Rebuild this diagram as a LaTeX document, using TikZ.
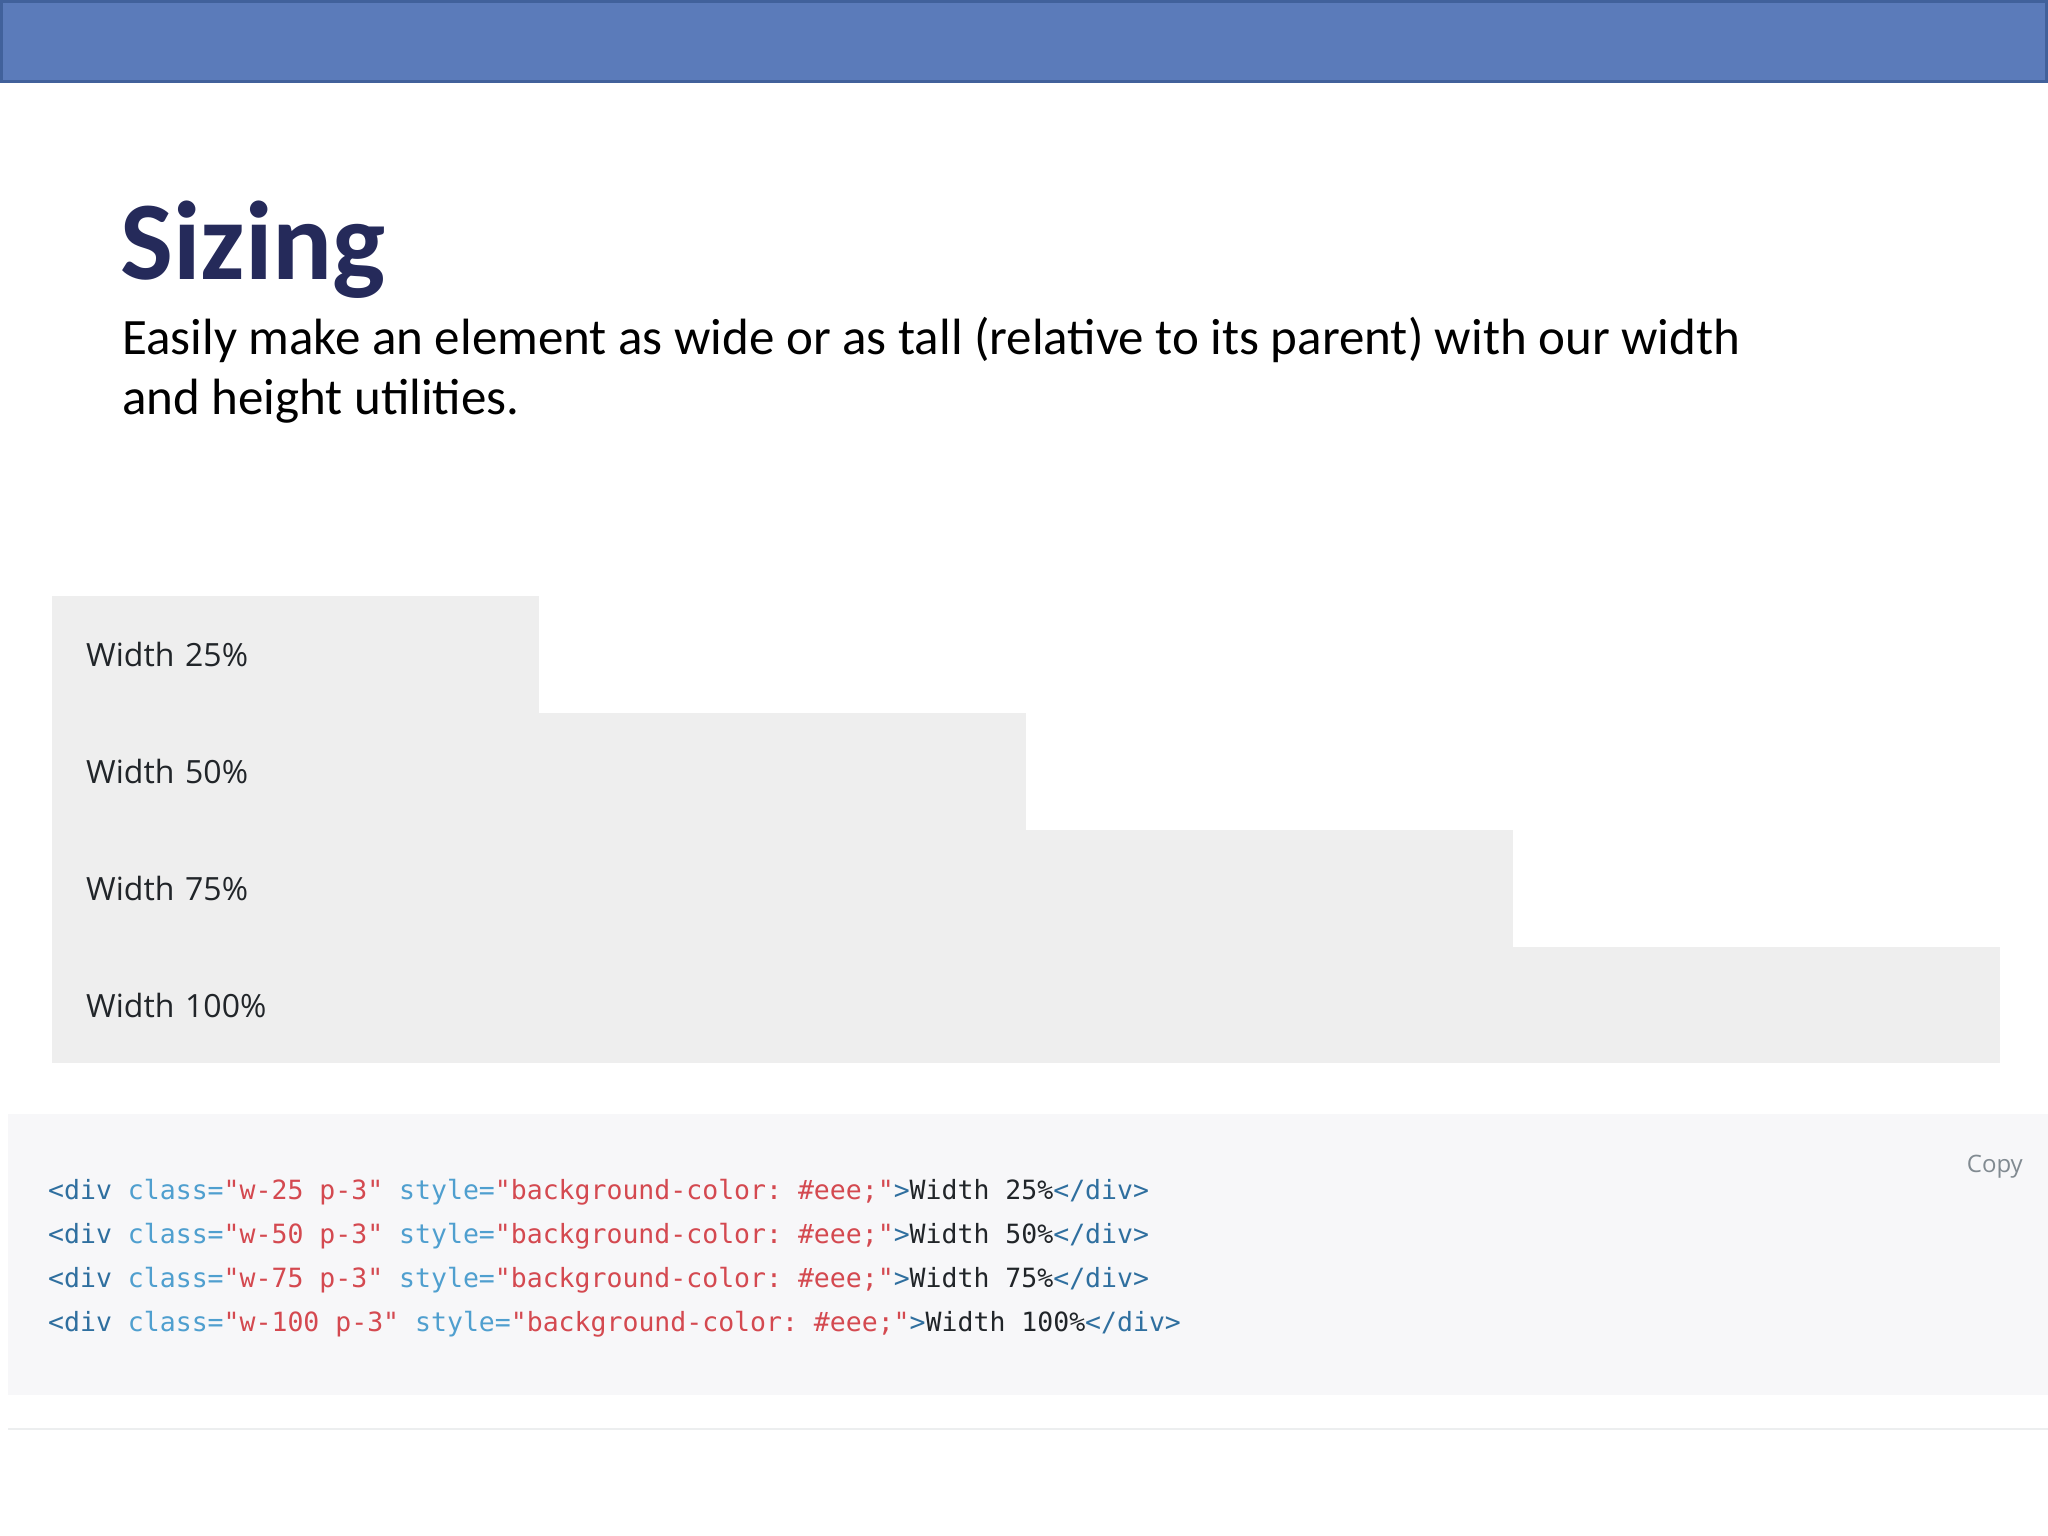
\documentclass[tikz,border=0pt]{standalone}
\usepackage{fontspec}
\setmainfont{Carlito}
\newfontfamily\uifont{Open Sans}
\newfontfamily\codefont{DejaVu Sans Mono}
\usepackage{xcolor}
\usetikzlibrary{positioning}
\definecolor{barblue}{HTML}{5B7BBA}
\definecolor{barline}{HTML}{41619B}
\definecolor{titlenavy}{HTML}{252A5A}
\definecolor{boxgray}{HTML}{EEEEEE}
\definecolor{codebg}{HTML}{F7F7F9}
\definecolor{ruleline}{HTML}{ECEEEF}
\definecolor{tagblue}{HTML}{2F6F9F}
\definecolor{attrblue}{HTML}{4F9FCF}
\definecolor{strred}{HTML}{D44950}
\definecolor{copygray}{HTML}{818A91}
\definecolor{textdark}{HTML}{212529}
\tikzset{widthbox/.style={fill=boxgray, anchor=north west, minimum height=116.5pt, inner xsep=34pt, inner ysep=0pt, text width=#1, align=left, text=textdark, font=\uifont\fontsize{32}{38}\selectfont}}
\tikzset{codeline/.style={anchor=base west, inner sep=0pt, text=textdark, font=\codefont\frenchspacing\fontsize{26.5}{32}\selectfont}}
\newcommand\codeln[2]{\textcolor{tagblue}{<div} \textcolor{attrblue}{class=}\textcolor{strred}{"#1 p-3"} \textcolor{attrblue}{style=}\textcolor{strred}{"background-color: \#eee;"}\textcolor{tagblue}{>}#2\textcolor{tagblue}{</div>}}

\begin{document}
\begin{tikzpicture}[x=1pt, y=-1pt]
    \useasboundingbox (0,0) rectangle (2048,1536);
    % header bar
    \draw[barline, line width=3pt, fill=barblue] (1.5,1.5) rectangle (2046.5,82);
    % heading
    \node[anchor=base west, inner sep=0pt, text=titlenavy, font=\bfseries\fontsize{112}{134}\selectfont] (title) at (120,279) {Sizing};
    \node[anchor=base west, inner sep=0pt, align=left, font=\fontsize{51}{60}\selectfont] (lead) at (122,414) {Easily make an element as wide or as tall (relative to its parent) with our width\\and height utilities.};
    % width boxes
    \node[widthbox=419pt] (w25) at (52,596) {Width 25\%};
    \node[widthbox=906pt] (w50) at (w25.south west) {Width 50\%};
    \node[widthbox=1393pt] (w75) at (w50.south west) {Width 75\%};
    \node[widthbox=1880pt] (w100) at (w75.south west) {Width 100\%};
    % code block
    \fill[codebg] (8,1114) rectangle (2048,1395);
    \draw[ruleline, line width=2pt] (8,1429) -- (2048,1429);
    \node[anchor=base east, inner sep=0pt, text=copygray, font=\uifont\fontsize{24}{29}\selectfont] (copy) at (2023,1172) {Copy};
    \node[codeline] (code1) at (48,1199) {\codeln{w-25}{Width 25\%}};
    \node[codeline] (code2) at (48,1243) {\codeln{w-50}{Width 50\%}};
    \node[codeline] (code3) at (48,1287) {\codeln{w-75}{Width 75\%}};
    \node[codeline] (code4) at (48,1331) {\codeln{w-100}{Width 100\%}};
\end{tikzpicture}
\end{document}
